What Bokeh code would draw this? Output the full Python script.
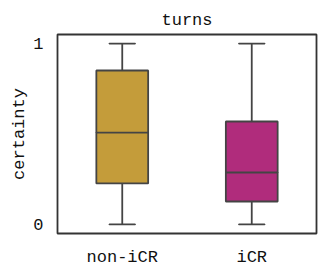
from bokeh.plotting import figure
from bokeh.models import ColumnDataSource, Range1d, FixedTicker
from bokeh.embed import file_html
from bokeh.resources import INLINE

categories = ["non-iCR", "iCR"]
lower = [0.0, 0.0]
q1 = [0.227, 0.127]
median = [0.508, 0.287]
q3 = [0.851, 0.569]
upper = [1.0, 1.0]
colors = ["#c49c3a", "#b02c7c"]

FONT = "Liberation Mono"
EDGE = "#444444"

src = ColumnDataSource(dict(cat=categories, lower=lower, q1=q1, median=median,
                            q3=q3, upper=upper, color=colors))

p = figure(x_range=categories, y_range=Range1d(-0.05, 1.05),
           frame_width=259, frame_height=199,
           output_backend="svg", toolbar_location=None, title="turns",
           min_border_left=5, min_border_right=3, min_border_top=5, min_border_bottom=5)
p.margin = (4, 0, 0, 7)

# whiskers
p.segment(x0="cat", y0="q3", x1="cat", y1="upper", source=src, line_color=EDGE, line_width=1.8)
p.segment(x0="cat", y0="lower", x1="cat", y1="q1", source=src, line_color=EDGE, line_width=1.8)
# caps
p.rect(x="cat", y="upper", width=0.2, height=0.0001, source=src, line_color=EDGE, line_width=1.8, fill_color=None)
p.rect(x="cat", y="lower", width=0.2, height=0.0001, source=src, line_color=EDGE, line_width=1.8, fill_color=None)
# boxes
p.vbar(x="cat", bottom="q1", top="q3", width=0.4, source=src, fill_color="color",
       line_color=EDGE, line_width=1.8)
# medians
p.rect(x="cat", y="median", width=0.4, height=0.0001, source=src, line_color=EDGE, line_width=1.8, fill_color=None)

p.title.align = "center"
p.title.text_font = FONT
p.title.text_font_size = "17px"
p.title.text_font_style = "normal"
p.title.text_color = "#111111"
p.title.standoff = 9

p.yaxis.ticker = FixedTicker(ticks=[0, 1])
p.yaxis.axis_label = "certainty"
for ax in (p.xaxis[0], p.yaxis[0]):
    ax.axis_line_color = None
    ax.major_tick_line_color = None
    ax.minor_tick_line_color = None
    ax.major_label_text_font = FONT
    ax.major_label_text_font_size = "17px"
    ax.major_label_text_color = "#111111"
    ax.axis_label_text_font = FONT
    ax.axis_label_text_font_size = "17px"
    ax.axis_label_text_font_style = "normal"
    ax.axis_label_text_color = "#111111"
p.xaxis.major_label_standoff = 8
p.yaxis.major_label_standoff = 8
p.yaxis.axis_label_standoff = 1

p.xgrid.grid_line_color = None
p.ygrid.grid_line_color = None
p.outline_line_color = "#333333"
p.outline_line_width = 1.8
p.background_fill_color = "white"
p.border_fill_color = "white"

open("out.html", "w").write(file_html(p, INLINE))
